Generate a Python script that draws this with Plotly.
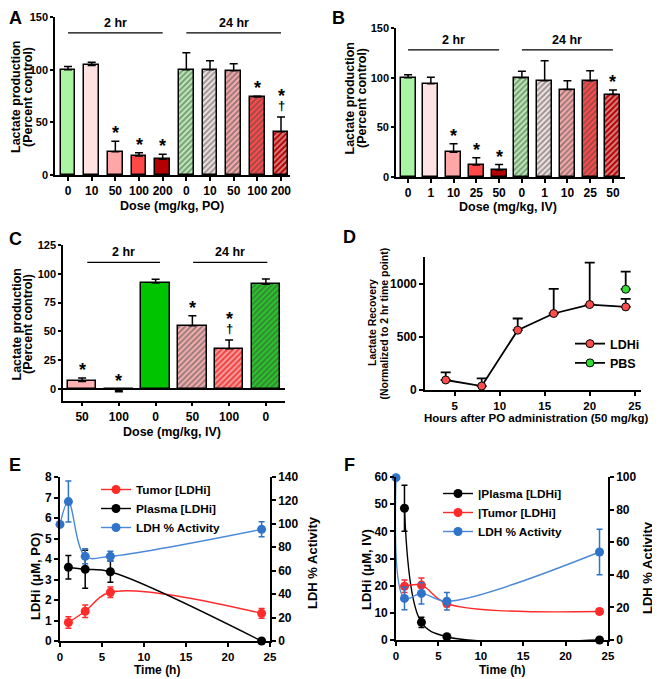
import plotly.graph_objects as go

# The page body adds an 8 px offset, so the figure is sized to fill the rest
# of the 660x679 window and every layout position below is given in window pixels.
OFF = 8
W, H = 660 - OFF, 679 - OFF
FONT = "Liberation Sans, Arial, Helvetica, sans-serif"


def px(x):
    return (x - OFF) / W


def py(y):
    return 1 - (y - OFF) / H


# ---------------- data ----------------
# Panel A  (PO, 2 hr then 24 hr)
a_ticks = ["0", "10", "50", "100", "200", "0", "10", "50", "100", "200"]
a_vals = [100, 104, 22, 18, 15, 100, 100, 99, 74, 41]
a_err = [3, 3, 10, 3.2, 4.7, 16, 8.5, 6.5, 0.8, 14]
a_sig = ["", "", "*", "*", "*", "", "", "", "*", "*†"]

# Panel B  (IV, 2 hr then 24 hr)
b_ticks = ["0", "1", "10", "25", "50", "0", "1", "10", "25", "50"]
b_vals = [100, 94, 25, 12, 7, 100, 97, 88, 97, 83]
b_err = [3, 6.5, 8.5, 7.5, 5.5, 6.5, 20, 9, 10, 4.5]
b_sig = ["", "", "*", "*", "*", "", "", "", "", "*"]

# Panel C  (IV, 2 hr then 24 hr)
c_ticks = ["50", "100", "0", "50", "100", "0"]
c_vals = [6.5, -1, 92, 55, 35, 91]
c_err = [3, 1.4, 3.3, 8.5, 7.5, 4.5]
c_sig = ["*", "*", "", "*", "*†", ""]

# Panel D
d_hours = [4, 8, 12, 16, 20, 24]
d_ldhi = [94, 37, 562, 719, 803, 781]
d_ldhi_err = [72, 73, 110, 231, 394, 75]
d_pbs_hours = [24]
d_pbs = [947]
d_pbs_err = [166]

# Panel E (PO)
e_time_conc = [1, 3, 6, 24]
e_tumor = [0.9, 1.45, 2.38, 1.35]
e_tumor_err = [0.28, 0.3, 0.26, 0.24]
e_plasma = [3.6, 3.5, 3.38, 0]
e_plasma_err = [0.57, 0.93, 0.52, 0]
e_time_act = [0, 1, 3, 6, 24]
e_activity = [99.5, 119, 72.3, 72.3, 95.3]
e_activity_err = [0, 17.5, 6.4, 4.3, 6.4]

# Panel F (IV)
f_time_conc = [1, 3, 6, 24]
f_plasma = [48.5, 6.5, 1.2, 0]
f_plasma_err = [8.5, 1.9, 0, 0]
f_tumor = [19.8, 20.2, 13.4, 10.5]
f_tumor_err = [2.3, 2.6, 1.2, 0.9]
f_time_act = [0, 1, 3, 6, 24]
f_activity = [99.6, 25.5, 28.6, 23.8, 54]
f_activity_err = [0, 7, 6.5, 5.4, 14]

# ---------------- styles ----------------
ab_fill = ["#aaf5a4", "#ffe2e2", "#ffa6a6", "#ff4848", "#b40000",
           "#b8efb3", "#f3e4e4", "#f7acac", "#ff4c4c", "#b40000"]
ab_stripe = [None] * 5 + ["#3aa83a", "#9a7878", "#c04a4a", "#a00000", "#480000"]
c_fill = ["#ffb2b2", "#ff5050", "#00c400", "#f5b0b0", "#ee4040", "#28c828"]
c_stripe = [None, None, None, "#b04848", "#8a0c0c", "#046004"]

RED = "#ff2a2a"
BLUE = "#2f74c8"
BLUE_LINE = "#4a88d8"

fig = go.Figure()


def bars(xa, ya, vals, errs, fills, stripes, width):
    xs = list(range(len(vals)))
    up = [e if v >= 0 else 0 for v, e in zip(vals, errs)]
    down = [e if v < 0 else 0 for v, e in zip(vals, errs)]
    shapes = ["/" if s else "" for s in stripes]
    fg = [s if s else "black" for s in stripes]
    fig.add_trace(go.Bar(
        x=xs, y=vals, width=width, xaxis=xa, yaxis=ya, showlegend=False,
        marker=dict(color=fills, line=dict(color="black", width=1.5),
                    pattern=dict(shape=shapes, fgcolor=fg, size=4,
                                 solidity=0.5, fillmode="overlay")),
        error_y=dict(type="data", symmetric=False, array=up, arrayminus=down,
                     color="black", thickness=1.5, width=4),
    ))


bars("x", "y", a_vals, a_err, ab_fill, ab_stripe, 0.63)
bars("x2", "y2", b_vals, b_err, ab_fill, ab_stripe, 0.66)
bars("x3", "y3", c_vals, c_err, c_fill, c_stripe, 0.78)

# Panel D
fig.add_trace(go.Scatter(
    x=d_hours, y=d_ldhi, name="LDHi", mode="lines+markers", xaxis="x4", yaxis="y4",
    line=dict(color="black", width=1.8), cliponaxis=False, legend="legend",
    marker=dict(color="#ff4d4d", size=8, line=dict(color="black", width=1)),
    error_y=dict(type="data", symmetric=False, array=d_ldhi_err,
                 arrayminus=[0] * len(d_ldhi_err), color="black", thickness=1.8, width=5),
))
fig.add_trace(go.Scatter(
    x=d_pbs_hours, y=d_pbs, name="PBS", mode="lines+markers", xaxis="x4", yaxis="y4",
    line=dict(color="black", width=1.8), cliponaxis=False, legend="legend",
    marker=dict(color="#33dd33", size=8, line=dict(color="black", width=1)),
    error_y=dict(type="data", symmetric=False, array=d_pbs_err,
                 arrayminus=[0] * len(d_pbs_err), color="black", thickness=1.8, width=5),
))


def series(x, y, err, name, color, lcolor, xa, ya, leg):
    fig.add_trace(go.Scatter(
        x=x, y=y, name=name, mode="lines+markers", xaxis=xa, yaxis=ya,
        line=dict(color=lcolor, width=1.4, shape="spline", smoothing=1.0),
        marker=dict(color=color, size=9), cliponaxis=False, legend=leg,
        error_y=dict(type="data", array=err, color=color, thickness=1.5, width=3),
    ))


# Panel E
series(e_time_conc, e_tumor, e_tumor_err, "Tumor [LDHi]", RED, RED, "x5", "y5", "legend2")
series(e_time_conc, e_plasma, e_plasma_err, "Plasma [LDHi]", "black", "black", "x5", "y5", "legend2")
series(e_time_act, e_activity, e_activity_err, "LDH % Activity", BLUE, BLUE_LINE, "x5", "y6", "legend2")

# Panel F
series(f_time_conc, f_plasma, f_plasma_err, "|Plasma [LDHi]", "black", "black", "x6", "y7", "legend3")
series(f_time_conc, f_tumor, f_tumor_err, "|Tumor [LDHi]", RED, RED, "x6", "y7", "legend3")
series(f_time_act, f_activity, f_activity_err, "LDH % Activity", BLUE, BLUE_LINE, "x6", "y8", "legend3")

# ---------------- axes ----------------
TICKF = dict(family=FONT, size=11, color="black", weight="bold")
TICKF12 = dict(family=FONT, size=12, color="black", weight="bold")


def ax(**kw):
    d = dict(showline=True, linecolor="black", linewidth=1.6, ticks="outside",
             ticklen=4, tickwidth=1.5, tickcolor="black", showgrid=False,
             zeroline=False, tickfont=TICKF, fixedrange=True, automargin=False,
             ticklabeloverflow="allow")
    d.update(kw)
    return d


LEGFONT = dict(family=FONT, size=11.8, color="black", weight="bold")

layout = dict(
    width=W, height=H, margin=dict(l=0, r=0, t=0, b=0, pad=0, autoexpand=False),
    paper_bgcolor="white", plot_bgcolor="white",
    font=dict(family=FONT, color="black", weight="bold"),
    bargap=0,
    # A
    xaxis=ax(domain=[px(55), px(290)], range=[-0.55, 9.38], anchor="y",
             tickvals=list(range(10)), ticktext=a_ticks, tickfont=TICKF12),
    yaxis=ax(domain=[py(175), py(17)], range=[0, 150], anchor="x",
             tickvals=[0, 50, 100, 150], ticklen=3),
    # B
    xaxis2=ax(domain=[px(396), px(625)], range=[-0.53, 9.53], anchor="y2",
              tickvals=list(range(10)), ticktext=b_ticks, tickfont=TICKF12),
    yaxis2=ax(domain=[py(177), py(28)], range=[0, 150], anchor="x2",
              tickvals=[0, 50, 100, 150], ticklen=3),
    # C
    xaxis3=ax(domain=[px(63), px(285)], range=[-0.52, 5.52], anchor="y3",
              tickvals=list(range(6)), ticktext=c_ticks, tickfont=TICKF12),
    yaxis3=ax(domain=[py(400.5), py(245)], range=[-10, 125], anchor="x3",
              tickvals=[0, 25, 50, 75, 100, 125], zeroline=True, ticklen=3,
              zerolinecolor="black", zerolinewidth=1.6),
    # D
    xaxis4=ax(domain=[px(425), px(641)], range=[1.7, 25.7], anchor="y4",
              tickvals=[5, 10, 15, 20, 25], tickfont=dict(TICKF12, size=11.5)),
    yaxis4=ax(domain=[py(390), py(257)], range=[0, 1250], anchor="x4",
              tickvals=[0, 500, 1000], tickfont=TICKF12),
    # E
    xaxis5=ax(domain=[px(60), px(270)], range=[0, 25], anchor="y5",
              tickvals=[0, 5, 10, 15, 20, 25], tickfont=dict(TICKF12, size=11.5)),
    yaxis5=ax(domain=[py(641), py(477)], range=[0, 8], anchor="x5",
              tickvals=list(range(9)), tickfont=TICKF12),
    yaxis6=ax(domain=[py(641), py(477)], range=[0, 140], anchor="x5",
              overlaying="y5", side="right", tickvals=list(range(0, 141, 20)),
              tickfont=TICKF12),
    # F
    xaxis6=ax(domain=[px(396), px(608)], range=[0, 25], anchor="y7",
              tickvals=[0, 5, 10, 15, 20, 25], tickfont=dict(TICKF12, size=11.5)),
    yaxis7=ax(domain=[py(640), py(477)], range=[0, 60], anchor="x6",
              tickvals=list(range(0, 61, 10)), tickfont=TICKF12),
    yaxis8=ax(domain=[py(640), py(477)], range=[0, 100], anchor="x6",
              overlaying="y7", side="right", tickvals=list(range(0, 101, 20)),
              tickfont=TICKF12),
    legend=dict(x=px(570), y=py(329), xanchor="left", yanchor="top",
                bgcolor="rgba(0,0,0,0)", font=dict(LEGFONT, size=12.5),
                tracegroupgap=0, itemwidth=30),
    legend2=dict(x=px(96), y=py(475), xanchor="left", yanchor="top",
                 bgcolor="rgba(0,0,0,0)", font=LEGFONT,
                 tracegroupgap=0, itemwidth=30),
    legend3=dict(x=px(438), y=py(479), xanchor="left", yanchor="top",
                 bgcolor="rgba(0,0,0,0)", font=LEGFONT,
                 tracegroupgap=0, itemwidth=30),
)

annotations = []
shapes = []


def text(x, y, s, size=13, angle=0, xref="paper", yref="paper", **kw):
    d = dict(x=x, y=y, text=s, showarrow=False, xref=xref, yref=yref,
             xanchor="center", yanchor="middle",
             textangle=angle, font=dict(family=FONT, size=size, color="black", weight="bold"))
    d.update(kw)
    annotations.append(d)


# panel letters
for letter, lx, ly in [("A", 15, 18.5), ("B", 339, 18.5), ("C", 15, 239),
                       ("D", 349, 237), ("E", 15, 465), ("F", 349, 465)]:
    text(px(lx), py(ly), letter, size=18)


def ytitle(x1, x2, yc, l1, l2, size=12.5):
    text(px(x1), py(yc), l1, size=size, angle=-90)
    text(px(x2), py(yc), l2, size=size, angle=-90)


# axis titles
ytitle(16, 28, 97, "Lactate production", "(Percent control)")
ytitle(349.5, 362, 98, "Lactate production", "(Percent control)")
ytitle(16.5, 28, 324, "Lactate production", "(Percent control)")
ytitle(372, 383.5, 323, "Lactate Recovery", "(Normalized to 2 hr time point)", size=10.5)
text(px(35), py(576), "LDHi (μM, PO)", angle=-90)
text(px(312), py(563), "LDH % Activity", angle=-90)
text(px(366), py(570), "LDHi (μM, IV)", angle=-90)
text(px(647), py(568), "LDH % Activity", angle=-90)
text(px(172), py(206), "Dose (mg/kg, PO)", size=12.5)
text(px(508), py(207), "Dose (mg/kg, IV)", size=12.5)
text(px(172), py(432), "Dose (mg/kg, IV)", size=12.5)
text(px(536), py(418), "Hours after PO administration (50 mg/kg)", size=11.5)
text(px(157), py(669.5), "Time (h)", size=12)
text(px(502), py(669.5), "Time (h)", size=12)


def groups(xr, yr, ly, spans):
    for label, x0, x1 in spans:
        shapes.append(dict(type="line", xref=xr, yref=yr, x0=x0, x1=x1, y0=ly, y1=ly,
                           line=dict(color="black", width=1.2)))
        text((x0 + x1) / 2, ly, label, size=12.5, xref=xr, yref=yr,
             yanchor="bottom", yshift=1)


groups("x", "y", 135, [("2 hr", 0, 4), ("24 hr", 5, 9)])
groups("x2", "y2", 128, [("2 hr", 0, 4), ("24 hr", 5, 9)])
groups("x3", "y3", 110, [("2 hr", 0.14, 2.12), ("24 hr", 3.02, 5.04)])

STAR = "<span style='font-size:18px'>*</span>"
DAGGER = "<span style='font-size:13px'>†</span>"


def sig(xr, yr, vals, errs, sigs):
    for i, (v, e, s) in enumerate(zip(vals, errs, sigs)):
        if not s:
            continue
        top = v + e if v >= 0 else 0
        if "†" in s:
            text(i, top, STAR + "<br>" + DAGGER, size=6, xref=xr, yref=yr,
                 yanchor="bottom", yshift=2)
        else:
            text(i, top, "*", size=18, xref=xr, yref=yr, yshift=8)


sig("x", "y", a_vals, a_err, a_sig)
sig("x2", "y2", b_vals, b_err, b_sig)
sig("x3", "y3", c_vals, c_err, c_sig)

layout["annotations"] = annotations
layout["shapes"] = shapes
fig.update_layout(**layout)

fig.write_html("out.html")
